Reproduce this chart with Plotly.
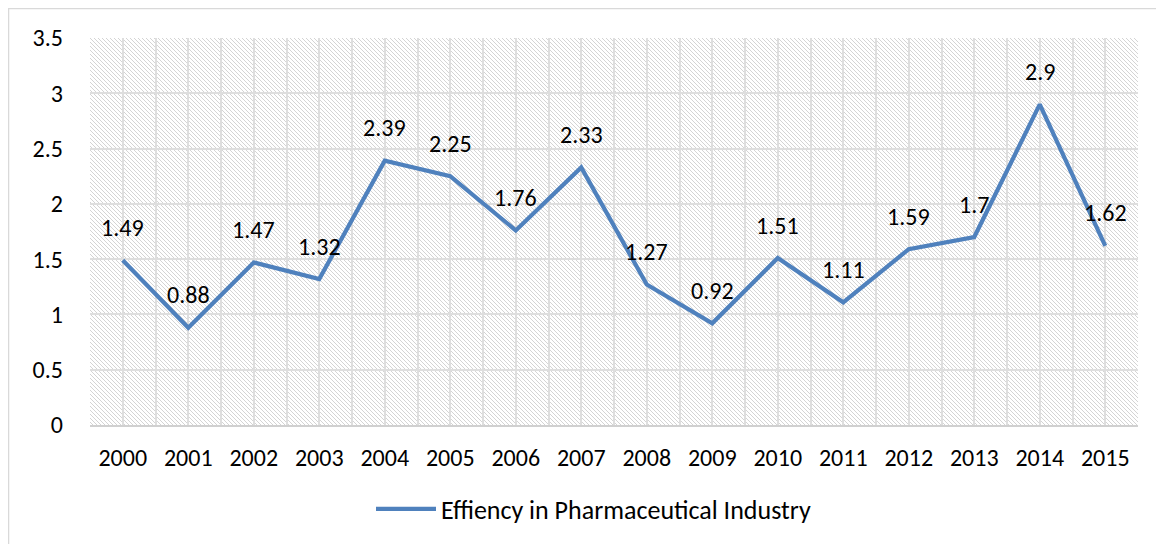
import plotly.graph_objects as go
import base64

years = ["2000", "2001", "2002", "2003", "2004", "2005", "2006", "2007",
         "2008", "2009", "2010", "2011", "2012", "2013", "2014", "2015"]
efficiency = [1.49, 0.88, 1.47, 1.32, 2.39, 2.25, 1.76, 2.33,
              1.27, 0.92, 1.51, 1.11, 1.59, 1.7, 2.9, 1.62]
series_name = "Effiency in Pharmaceutical Industry"
y_ticks = [0, 0.5, 1, 1.5, 2, 2.5, 3, 3.5]
y_ticktext = ["0", "0.5", "1", "1.5", "2", "2.5", "3", "3.5"]

FONT = "Calibri, Carlito, Lato, sans-serif"
W, H = 1156, 536
L, R, T, B = 82, 26, 30, 119
pw, ph = W - L - R, H - T - B

idx = list(range(len(years)))

fig = go.Figure()
fig.add_trace(go.Scatter(
    x=idx, y=efficiency, mode="lines", name=series_name,
    line=dict(color="#4f81bd", width=4.2),
    showlegend=True,
))

for i, v in zip(idx, efficiency):
    fig.add_annotation(x=i, y=v, text=f"{v:g}", showarrow=False,
                       yshift=33, font=dict(family=FONT, size=24, color="#000000"))

# hatch pattern background (plot area fill)
svg = ('<svg xmlns="http://www.w3.org/2000/svg" width="%d" height="%d">'
       '<defs><pattern id="p" width="4" height="4" patternUnits="userSpaceOnUse">'
       '<rect width="4" height="4" fill="#ffffff"/>'
       '<path d="M-1,-1 L5,5 M-1,3 L1,5 M3,-1 L5,1" stroke="#d4d4d4" stroke-width="1"/>'
       '</pattern></defs><rect width="100%%" height="100%%" fill="url(#p)"/></svg>') % (pw, ph)
uri = "data:image/svg+xml;base64," + base64.b64encode(svg.encode()).decode()
fig.add_layout_image(dict(source=uri, xref="paper", yref="paper", x=0, y=1,
                          sizex=1, sizey=1, sizing="stretch", layer="below",
                          xanchor="left", yanchor="top"))

# outer chart border
fig.add_shape(type="rect", xref="paper", yref="paper",
              x0=-L / pw + 0.0005, x1=(W + 20 - L) / pw,
              y0=-(B + 20) / ph, y1=1 + T / ph - 0.001,
              line=dict(color="#d9d9d9", width=1.5), fillcolor="rgba(0,0,0,0)",
              layer="below")

fig.update_layout(
    width=W, height=H,
    margin=dict(l=L, r=R, t=T, b=B),
    paper_bgcolor="#ffffff",
    plot_bgcolor="rgba(0,0,0,0)",
    font=dict(family=FONT, size=24, color="#000000"),
    showlegend=True,
    legend=dict(orientation="h", x=(363 - L) / pw, xanchor="left",
                y=-(501 - (H - B)) / ph, yanchor="middle",
                itemwidth=60,
                font=dict(family=FONT, size=26, color="#000000"),
                bgcolor="rgba(0,0,0,0)"),
    xaxis=dict(
        range=[-0.5, len(years) - 0.5],
        tickmode="array", tickvals=idx, ticktext=years,
        showgrid=True, gridcolor="#dedede", gridwidth=1.5,
        minor=dict(tickmode="array", tickvals=[i - 0.5 for i in range(len(years) + 1)],
                   showgrid=True, gridcolor="#dedede", gridwidth=1.5),
        ticks="", ticklabelstandoff=10,
        showline=True, linecolor="#d0d0d0", linewidth=2,
        zeroline=False, fixedrange=True,
    ),
    yaxis=dict(
        range=[0, 3.5], tickmode="array", tickvals=y_ticks, ticktext=y_ticktext,
        showgrid=True, gridcolor="#dedede", gridwidth=1.5,
        ticks="", ticklabelstandoff=26,
        zeroline=False, showline=False, fixedrange=True,
    ),
)

fig.write_html("out.html")
